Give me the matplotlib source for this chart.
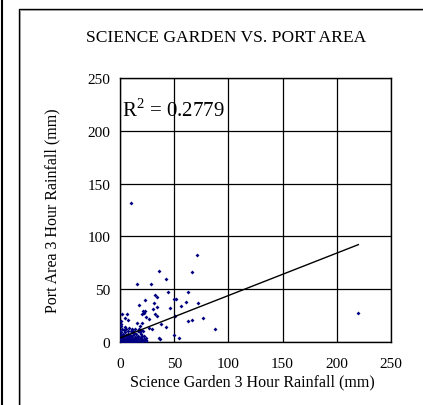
import numpy as np
import matplotlib
matplotlib.use("Agg")
import matplotlib.pyplot as plt
from matplotlib.lines import Line2D

plt.rcParams['font.family'] = ['Liberation Serif', 'DejaVu Serif']
plt.rcParams['mathtext.fontset'] = 'custom'
plt.rcParams['mathtext.rm'] = 'Liberation Serif'

# 3 hour rainfall pairs (mm): Science Garden vs Port Area
sg_rain = [10.5, 71.3, 66.4, 36.3, 42.7, 16.0, 28.6, 44.0, 63.0, 23.4, 32.6, 34.1,
           31.1, 17.2, 50.1, 52.0, 61.2, 72.3, 56.3, 45.8, 34.1, 30.8, 20.9, 23.4,
           20.6, 22.0, 32.6, 34.4, 50.4, 23.7, 6.5, 1.5, 4.6, 7.1, 0.6, 76.3, 62.4,
           66.4, 15.7, 20.3, 27.1, 37.5, 42.4, 18.5, 26.8, 29.2, 87.6, 219.9, 35.7,
           36.9, 50.1, 54.4, 23.7, 23.7,
           0.5, 1.0, 1.5, 2.0, 2.5, 3.0, 3.5, 4.0, 4.5, 5.0, 5.5, 6.0, 6.5, 7.0,
           7.5, 8.0, 8.5, 9.0, 9.5, 10.0, 10.5, 11.0, 11.5, 12.0, 12.5, 13.0, 13.5,
           14.0, 14.5, 15.0, 15.5, 16.0, 16.5, 17.0, 17.5, 18.0, 18.5, 19.0, 19.5,
           20.0, 20.5, 21.0, 21.5, 22.0, 22.5, 24.0, 0.3, 0.8, 1.2, 1.8, 2.2, 2.8,
           3.3, 3.8, 4.2, 4.8, 5.2, 5.8, 6.2, 7.2, 7.8, 8.3, 9.2, 9.8, 10.8, 11.3,
           12.2, 13.2, 14.2, 16.2, 17.3, 19.2, 0.2, 0.4, 0.6, 1.0, 2.0, 3.0, 4.0,
           5.0, 6.0, 7.0, 8.0, 9.0, 10.0, 11.0, 12.0, 13.0, 15.0, 16.0, 18.0, 20.0,
           0.1, 0.2, 1.5, 2.5, 3.5, 4.5]
pa_rain = [131.2, 82.8, 66.4, 67.3, 60.1, 54.7, 54.7, 47.7, 47.4, 39.5, 44.2, 43.0,
           37.3, 35.1, 40.5, 40.8, 37.9, 36.7, 33.8, 32.6, 33.5, 31.0, 29.4, 29.4,
           26.2, 27.7, 26.2, 24.7, 24.7, 24.0, 26.5, 26.2, 23.1, 20.9, 19.9, 23.1, 19.9,
           20.5, 18.3, 18.3, 21.5, 16.8, 14.5, 15.2, 13.6, 12.0, 12.6, 27.8, 4.1,
           3.2, 6.6, 4.1, 4.1, 1.9,
           0.5, 1.0, 0.3, 2.0, 1.0, 0.5, 3.0, 1.5, 0.8, 2.5, 4.0, 1.0, 3.5, 0.5,
           2.0, 5.0, 1.2, 3.0, 0.4, 6.0, 2.2, 4.0, 0.8, 7.0, 3.0, 1.5, 5.0,
           0.3, 8.0, 2.5, 4.5, 1.0, 6.0, 3.5, 0.6, 9.0, 2.0, 5.0, 7.5,
           1.2, 3.3, 10.0, 0.5, 6.0, 2.8, 0.8, 4.0, 7.0, 9.0, 12.0, 5.0, 8.0,
           11.0, 6.0, 14.0, 9.5, 7.0, 12.0, 5.5, 10.0, 8.0, 13.0, 7.0, 10.5, 9.0, 12.0,
           10.0, 8.5, 12.0, 10.5, 12.5, 11.0, 2.0, 10.0, 15.0, 17.0, 0.2, 2.0, 4.0,
           0.2, 2.5, 3.0, 0.8, 1.8, 0.5, 2.5, 1.0, 3.5, 0.5, 3.0, 4.0, 5.5,
           0.1, 1.2, 3.5, 6.5, 0.2, 2.2]

# linear trend fitted to the series
trend_slope = 0.402
trend_intercept = 3.8
r_squared = 0.2779

ticks = [0, 50, 100, 150, 200, 250]

fig = plt.figure(figsize=(4.23, 4.06), dpi=100)
ax = fig.add_axes([120 / 423, 63 / 406, 271 / 423, 264 / 406])

ax.scatter(sg_rain, pa_rain, marker='D', s=4, color='#000080', linewidths=0, zorder=3)

x_fit = np.array([0, max(sg_rain)])
ax.plot(x_fit, trend_intercept + trend_slope * x_fit, color='black', lw=1.0, zorder=4)

ax.set_xlim(0, 250)
ax.set_ylim(0, 250)
ax.set_xticks(ticks)
ax.set_yticks(ticks)
ax.grid(True, color='black', lw=0.9)
ax.set_axisbelow(True)
for s in ax.spines.values():
    s.set_linewidth(1.0)
ax.tick_params(length=0, labelsize=11, pad=7)
ax.tick_params(axis='x', pad=11)

ax.text(2, 214, f"R$^2$ = {r_squared}", fontsize=15, ha='left', va='baseline', zorder=5)

fig.text(226 / 423, 1 - 38 / 406, "SCIENCE GARDEN VS. PORT AREA", fontsize=12.6,
         ha='center', va='center')
fig.text(252 / 423, 1 - 382 / 406, "Science Garden 3 Hour Rainfall (mm)", fontsize=11.5,
         ha='center', va='center')
fig.text(52 / 423, 1 - 211 / 406, "Port Area 3 Hour Rainfall (mm)", fontsize=11.5,
         ha='center', va='center', rotation=90)

# page border lines
fig.add_artist(Line2D([2 / 423, 2 / 423], [0, 1], color='black', lw=1.5))
fig.add_artist(Line2D([18.5 / 423, 18.5 / 423, 1], [0, 1 - 9.5 / 406, 1 - 9.5 / 406],
                      color='black', lw=1.0))
fig.add_artist(Line2D([19.8 / 423, 19.8 / 423, 1], [0, 1 - 10.8 / 406, 1 - 10.8 / 406],
                      color='#999999', lw=0.7))

fig.savefig("out.png", dpi=100)
